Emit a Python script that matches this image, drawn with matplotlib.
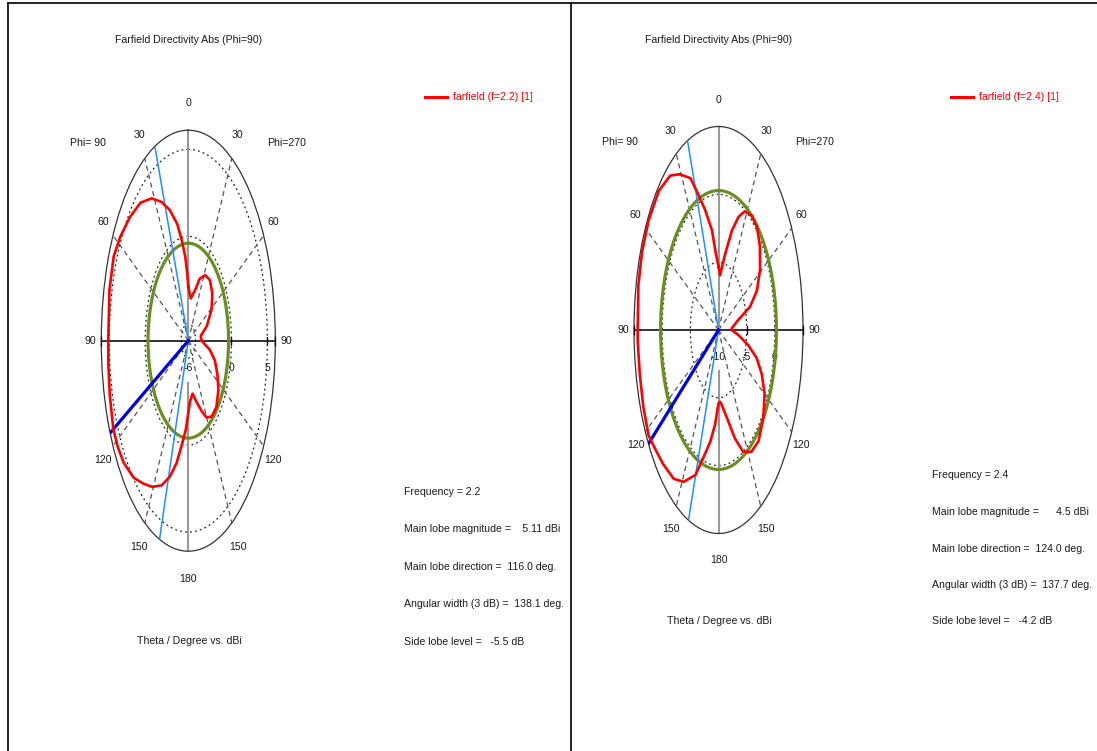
import numpy as np
import matplotlib
matplotlib.use("Agg")
import matplotlib.pyplot as plt
from matplotlib.lines import Line2D
from matplotlib import font_manager

W, H = 1097, 751

_installed = {f.name for f in font_manager.fontManager.ttflist}
if 'Liberation Sans Narrow' in _installed:
    FONT, FS = 'Liberation Sans Narrow', 9.2
elif 'Liberation Sans' in _installed:
    FONT, FS = 'Liberation Sans', 7.6
else:
    FONT, FS = 'DejaVu Sans', 6.8
plt.rcParams['font.family'] = [FONT, 'DejaVu Sans']

# ---------------- data : f = 2.2 (left chart) ----------------
theta_a_phi90 = [0, 2, 5, 9, 13, 19, 25, 32, 40, 49, 58, 65, 75, 90, 97, 106,
                 116, 122, 128, 136, 143, 149, 156, 162, 167, 171, 176, 180]
dbi_a_phi90 = [-2.9, -2.2, -1.15, -0.14, 0.9, 1.95, 2.8, 3.65, 4.35, 4.8, 5.2,
               5.45, 5.35, 5.13, 5.2, 5.36, 5.6, 5.55, 5.4, 4.95, 4.3, 3.8,
               3.1, 2.2, 1.2, 0.15, -0.85, -1.85]
theta_a_phi270 = [0, 8, 18, 24, 32, 41, 51, 61, 72, 81, 90, 100, 107, 115,
                  124, 134, 143, 150, 155, 162, 169, 176, 180]
dbi_a_phi270 = [-2.9, -3.55, -2.95, -2.1, -1.55, -1.4, -1.7, -2.3, -3.3,
                -4.25, -4.15, -2.95, -2.15, -1.55, -0.95, -0.55, -0.55, -0.9,
                -1.5, -2.3, -2.9, -2.5, -1.85]
green_a = -0.4                 # 3 dB reference circle (as drawn)
main_dir_a = 116.0
beam_edges_a = [22.6, 160.7]
rlim_a = (-6, 6.1)
grid_rings_a = [-5, 0, 5]
tick_vals_a = [0, 5]
tick_labels_a = ['0', '5']
center_label_a = '-6'
legend_a = 'farfield (f=2.2) [1]'
info_a = ["Frequency = 2.2",
          "Main lobe magnitude =    5.11 dBi",
          "Main lobe direction =  116.0 deg.",
          "Angular width (3 dB) =  138.1 deg.",
          "Side lobe level =   -5.5 dB"]

# ---------------- data : f = 2.4 (right chart) ----------------
theta_b_phi90 = [0, 5, 9, 15, 20, 24, 31, 37, 46, 57, 67, 77, 90, 93, 103,
                 113, 122, 128, 135, 144, 151, 159, 164, 170, 175, 180]
dbi_b_phi90 = [-5.3, -4.3, -2.55, -0.85, 0.7, 2.25, 3.4, 4.25, 4.75, 4.8,
               4.75, 4.6, 4.35, 4.37, 4.35, 4.5, 4.65, 4.25, 3.95, 3.55, 2.8,
               1.45, -0.2, -1.65, -3.0, -4.6]
theta_b_phi270 = [0, 4, 12, 18, 23, 28, 35, 42, 50, 59, 67, 73, 78, 87, 90,
                  96, 102, 107, 113, 120, 129, 139, 147, 154, 160, 167, 174,
                  177, 180]
dbi_b_phi270 = [-5.3, -5.95, -4.25, -2.3, -0.95, -0.1, 0.3, 0.2, -0.4, -1.4,
                -2.6, -4.15, -6.4, -7.65, -7.65, -6.45, -4.6, -2.9, -1.65,
                -0.55, 0.25, 0.85, 0.7, 0.0, -1.5, -3.35, -4.45, -4.7, -4.6]
green_b = 0.28
main_dir_b = 124.0
beam_edges_b = [21.5, 159.2]
rlim_b = (-10, 5)
grid_rings_b = [-5, 0]
tick_vals_b = [-5, 0]
tick_labels_b = ['-5', '0']
center_label_b = '-10'
legend_b = 'farfield (f=2.4) [1]'
info_b = ["Frequency = 2.4",
          "Main lobe magnitude =      4.5 dBi",
          "Main lobe direction =  124.0 deg.",
          "Angular width (3 dB) =  137.7 deg.",
          "Side lobe level =   -4.2 dB"]

angle_labels = [0, 30, 60, 90, 120, 150, 180]
title_text = "Farfield Directivity Abs (Phi=90)"
xlabel_text = "Theta / Degree vs. dBi"

# ---------------- styles ----------------
TXT = '#1a1a1a'
RED = '#ff0000'
GREEN = '#6b8e23'
BLUE = '#0000e6'
LBLUE = '#1e90ff'

fig = plt.figure(figsize=(W / 100, H / 100), dpi=100)


def ftext(x, y, s, **kw):
    kw.setdefault('fontsize', FS)
    kw.setdefault('color', TXT)
    kw.setdefault('va', 'center')
    return fig.text(x / W, 1 - y / H, s, **kw)


def draw_polar(cx, cy, rx, ry, rlim, th90, db90, th270, db270, green,
               main_dir, edges, rings, tvals, tlabels, clabel):
    ax = fig.add_axes([(cx - rx) / W, 1 - (cy + ry) / H, 2 * rx / W, 2 * ry / H],
                      projection='polar')
    ax.set_aspect('auto')
    ax.set_theta_zero_location('N')
    ax.set_theta_direction(1)
    rmin, rmax = rlim
    ax.set_ylim(rmin, rmax)
    ax.grid(False)
    ax.set_xticks([])
    ax.set_yticks([])
    ax.patch.set_alpha(0)
    ax.spines['polar'].set_color('#333333')
    ax.spines['polar'].set_linewidth(0.9)
    span = rmax - rmin
    full = np.linspace(0, 2 * np.pi, 721)
    # dotted grid rings
    for lv in rings:
        ax.plot(full, np.full_like(full, lv), color='#222222', lw=0.9,
                ls=(0, (1.5, 2.5)), zorder=2)
    # dashed radials
    for a in [30, 60, 120, 150]:
        for s in (1, -1):
            t = np.deg2rad(s * a)
            ax.plot([t, t], [rmin, rmax], color='#555555', lw=0.9,
                    ls=(0, (4, 3)), zorder=2)
    # vertical gray axis
    ax.plot([0, 0], [rmin, rmax], color='#999999', lw=1.5, zorder=2)
    ax.plot([np.pi, np.pi], [rmin + 0.2 * span, rmax], color='#999999',
            lw=1.5, zorder=2)
    # horizontal black axis
    for t in (np.pi / 2, -np.pi / 2):
        ax.plot([t, t], [rmin, rmax], color='#111111', lw=1.2, zorder=3)
        ax.plot([t], [rmax], marker='|', ms=7, color='#111111', zorder=3,
                clip_on=False)
    for v in tvals:
        ax.plot([-np.pi / 2], [v], marker='|', ms=6, color='#111111',
                zorder=3)
    # green circle
    ax.plot(full, np.full_like(full, green), color=GREEN, lw=2.3, zorder=4)
    # beam-width lines and main lobe direction
    for e in edges:
        t = np.deg2rad(e)
        ax.plot([t, t], [rmin, rmax], color=LBLUE, lw=1.1, zorder=5)
    t = np.deg2rad(main_dir)
    ax.plot([t, t], [rmin, rmax], color=BLUE, lw=2.3, zorder=6)
    # directivity curve
    th = np.deg2rad(np.concatenate([np.asarray(th90, float),
                                    360 - np.asarray(th270, float)[::-1]]))
    rr = np.concatenate([np.asarray(db90, float), np.asarray(db270, float)[::-1]])
    ax.plot(th, rr, color=RED, lw=1.9, zorder=7, solid_joinstyle='round')
    # angle labels
    rl = rmin + 1.13 * span
    for a in angle_labels:
        sides = (1,) if a in (0, 180) else (1, -1)
        for s in sides:
            ax.text(np.deg2rad(s * a), rl, str(a), ha='center', va='center',
                    fontsize=FS, color=TXT, clip_on=False)
    # radial tick labels
    ax.annotate(clabel, xy=(-np.pi / 2, rmin), xytext=(0, -19.5),
                textcoords='offset points', ha='center', va='center',
                fontsize=FS, color=TXT, annotation_clip=False)
    for v, s in zip(tvals, tlabels):
        ax.annotate(s, xy=(-np.pi / 2, v), xytext=(0, -19.5),
                    textcoords='offset points', ha='center', va='center',
                    fontsize=FS, color=TXT, annotation_clip=False)
    return ax


# ---------------- left panel ----------------
draw_polar(188.3, 340.7, 87, 210.5, rlim_a, theta_a_phi90, dbi_a_phi90,
           theta_a_phi270, dbi_a_phi270, green_a, main_dir_a, beam_edges_a,
           grid_rings_a, tick_vals_a, tick_labels_a, center_label_a)
ftext(189, 40, title_text, ha='center')
ftext(189, 641, xlabel_text, ha='center')
ftext(88, 143, 'Phi= 90', ha='center')
ftext(287, 143, 'Phi=270', ha='center')
fig.add_artist(Line2D([425 / W, 447 / W], [1 - 97 / H, 1 - 97 / H],
                      color=RED, lw=2.2))
ftext(453, 97, legend_a, ha='left', color=RED)
for s, y in zip(info_a, [492, 529, 567, 604, 642]):
    ftext(404, y, s, ha='left')

# ---------------- right panel ----------------
draw_polar(718.5, 330, 84.5, 203.5, rlim_b, theta_b_phi90, dbi_b_phi90,
           theta_b_phi270, dbi_b_phi270, green_b, main_dir_b, beam_edges_b,
           grid_rings_b, tick_vals_b, tick_labels_b, center_label_b)
ftext(719, 40, title_text, ha='center')
ftext(719, 621, xlabel_text, ha='center')
ftext(620, 142, 'Phi= 90', ha='center')
ftext(815, 142, 'Phi=270', ha='center')
fig.add_artist(Line2D([951 / W, 973 / W], [1 - 97 / H, 1 - 97 / H],
                      color=RED, lw=2.2))
ftext(979, 97, legend_b, ha='left', color=RED)
for s, y in zip(info_b, [475, 512, 549, 585, 621]):
    ftext(932, y, s, ha='left')

# ---------------- frame lines ----------------
for xs, ys in [([8, 8], [3, H]), ([8, W], [3, 3]), ([570.5, 570.5], [3, H])]:
    fig.add_artist(Line2D([x / W for x in xs], [1 - y / H for y in ys],
                          color='#111111', lw=1.3))

fig.savefig('out.png', dpi=100, facecolor='white')
